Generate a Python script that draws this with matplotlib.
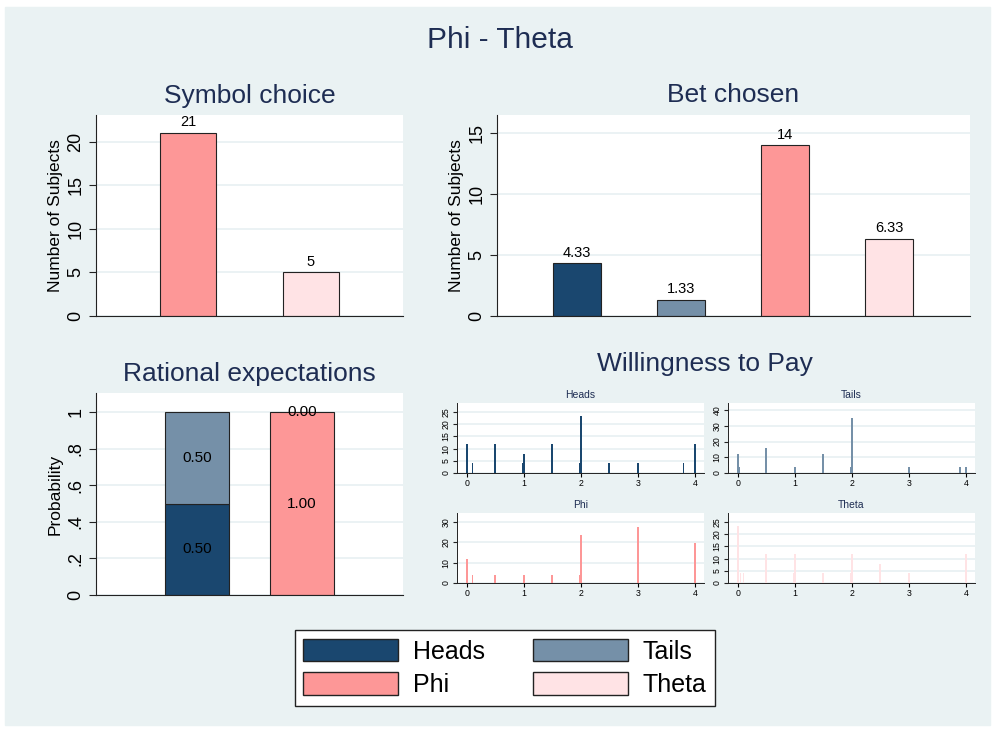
import matplotlib
matplotlib.use('Agg')
import matplotlib.pyplot as plt
from matplotlib.patches import Patch, Rectangle

plt.rcParams['font.family'] = ['Liberation Sans', 'DejaVu Sans']

W, H = 995, 732

# colours (Stata s2color-like)
C_HEADS = '#1a476f'
C_TAILS = '#7590a8'
C_PHI = '#fd9797'
C_THETA = '#ffe3e5'
BG = '#eaf2f3'
GRID = '#e8f0f2'
TITLE_C = '#1e2d53'

# --- data ---
symbol_labels = ['Phi', 'Theta']
symbol_counts = [21, 5]

bet_labels = ['Heads', 'Tails', 'Phi', 'Theta']
bet_counts = [4.33, 1.33, 14, 6.33]

rational_heads = [0.50, 0.00]
rational_tails = [0.50, 0.00]
rational_phi = [0.00, 1.00]
rational_theta = [0.00, 0.00]

wtp_heads_x = [0, 0.1, 0.5, 0.98, 1, 1.5, 1.98, 2, 2.5, 3, 3.8, 4]
wtp_heads_y = [11.8, 3.9, 11.8, 3.9, 7.8, 11.8, 3.9, 23.5, 3.9, 3.9, 3.9, 11.8]
wtp_tails_x = [0, 0.03, 0.5, 1, 1.5, 1.98, 2, 3, 3.9, 4]
wtp_tails_y = [11.8, 3.9, 15.7, 3.9, 11.8, 3.9, 35.3, 3.9, 3.9, 3.9]
wtp_phi_x = [0, 0.1, 0.5, 1, 1.5, 1.98, 2, 3, 4]
wtp_phi_y = [11.8, 3.9, 3.9, 3.9, 3.9, 3.9, 23.5, 27.4, 19.6]
wtp_theta_x = [0, 0.05, 0.1, 0.5, 0.98, 1, 1.5, 1.98, 2, 2.5, 3, 4]
wtp_theta_y = [23.5, 3.9, 3.9, 11.8, 3.9, 11.8, 3.9, 3.9, 11.8, 7.8, 3.9, 11.8]

fig = plt.figure(figsize=(W / 100, H / 100), dpi=100, facecolor='white')
fig.patches.append(Rectangle((5 / W, 1 - 725 / H), 985 / W, 718 / H,
                             transform=fig.transFigure, color=BG, zorder=-10))


def add_ax(l, t, r, b):
    return fig.add_axes([l / W, 1 - b / H, (r - l) / W, (b - t) / H])


def style(ax, size=13, grid=True):
    ax.set_facecolor('white')
    for s in ['top', 'right']:
        ax.spines[s].set_visible(False)
    ax.spines['left'].set_color('#222222')
    ax.spines['bottom'].set_color('#222222')
    ax.tick_params(axis='y', labelsize=size, rotation=90, length=5, color='#222222')
    for lab in ax.get_yticklabels():
        lab.set_va('center')
    if grid:
        ax.yaxis.grid(True, color=GRID, linewidth=1.2)
        ax.set_axisbelow(True)


fig.text(500 / W, 1 - 40 / H, 'Phi - Theta', ha='center', va='center',
         fontsize=21.5, color=TITLE_C)

# --- Symbol choice ---
ax1 = add_ax(96, 115, 403, 316)
x1 = [0.30, 0.70]
ax1.bar(x1, symbol_counts, width=0.18, color=[C_PHI, C_THETA],
        edgecolor='#222222', linewidth=0.8)
for xi, v in zip(x1, symbol_counts):
    ax1.text(xi, v + 0.45, f'{v:g}', ha='center', va='bottom', fontsize=10.5)
ax1.set_xlim(0, 1)
ax1.set_ylim(0, 23.1)
ax1.set_xticks([])
ax1.set_yticks([0, 5, 10, 15, 20])
style(ax1)
ax1.set_ylabel('Number of Subjects', fontsize=12.5, labelpad=3)
ax1.set_title('Symbol choice', fontsize=19, color=TITLE_C, pad=9)

# --- Bet chosen ---
ax2 = add_ax(497, 115, 970, 316)
x2 = [0.169, 0.389, 0.609, 0.829]
ax2.bar(x2, bet_counts, width=0.101, color=[C_HEADS, C_TAILS, C_PHI, C_THETA],
        edgecolor='#222222', linewidth=0.8)
for xi, v in zip(x2, bet_counts):
    ax2.text(xi, v + 0.3, f'{v:g}', ha='center', va='bottom', fontsize=10.5)
ax2.set_xlim(0, 1)
ax2.set_ylim(0, 16.5)
ax2.set_xticks([])
ax2.set_yticks([0, 5, 10, 15])
style(ax2)
ax2.set_ylabel('Number of Subjects', fontsize=12.5, labelpad=3)
ax2.set_title('Bet chosen', fontsize=19, color=TITLE_C, pad=9)

# --- Rational expectations ---
ax3 = add_ax(96, 393, 403, 595)
x3 = [0.329, 0.671]
w3 = 0.208
bottom = [0, 0]
for vals, col in [(rational_heads, C_HEADS), (rational_tails, C_TAILS),
                  (rational_phi, C_PHI), (rational_theta, C_THETA)]:
    for i, (xi, v) in enumerate(zip(x3, vals)):
        if v > 0:
            ax3.bar(xi, v, width=w3, bottom=bottom[i], color=col,
                    edgecolor='#222222', linewidth=0.8)
    bottom = [b + v for b, v in zip(bottom, vals)]
ax3.text(x3[0], 0.25, '0.50', ha='center', va='center', fontsize=11)
ax3.text(x3[0], 0.75, '0.50', ha='center', va='center', fontsize=11)
ax3.text(x3[1], 0.50, '1.00', ha='center', va='center', fontsize=11)
ax3.text(x3[1], 1.00, '0.00', ha='center', va='center', fontsize=11)
ax3.set_xlim(0, 1)
ax3.set_ylim(0, 1.104)
ax3.set_xticks([])
ax3.set_yticks([0, 0.2, 0.4, 0.6, 0.8, 1])
ax3.set_yticklabels(['0', '.2', '.4', '.6', '.8', '1'])
style(ax3)
ax3.set_ylabel('Probability', fontsize=12.5, labelpad=3)
ax3.set_title('Rational expectations', fontsize=19, color=TITLE_C, pad=9)

# --- Willingness to Pay ---
fig.text(705 / W, 1 - 364 / H, 'Willingness to Pay', ha='center', va='center',
         fontsize=19, color=TITLE_C)

small = [
    ('Heads', wtp_heads_x, wtp_heads_y, C_HEADS, (457, 403, 704, 473), 28.7, [0, 5, 10, 15, 20, 25]),
    ('Tails', wtp_tails_x, wtp_tails_y, C_TAILS, (728, 403, 975, 473), 44.6, [0, 10, 20, 30, 40]),
    ('Phi', wtp_phi_x, wtp_phi_y, C_PHI, (457, 513, 704, 583), 34.4, [0, 10, 20, 30]),
    ('Theta', wtp_theta_x, wtp_theta_y, C_THETA, (728, 513, 975, 583), 28.7, [0, 5, 10, 15, 20, 25]),
]
for name, xs, ys, col, box, ytop, yt in small:
    ax = add_ax(*box)
    ax.bar(xs, ys, width=0.03, color=col, linewidth=0)
    ax.set_xlim(-0.17, 4.16)
    ax.set_ylim(0, ytop)
    ax.set_xticks([0, 1, 2, 3, 4])
    ax.set_yticks(yt)
    style(ax, size=6.3, grid=True)
    ax.tick_params(axis='x', labelsize=6.3, length=3, pad=1.5)
    ax.tick_params(axis='y', length=3, pad=1.5)
    ax.spines['left'].set_linewidth(0.7)
    ax.spines['bottom'].set_linewidth(0.7)
    ax.set_title(name, fontsize=7.5, color=TITLE_C, pad=3.5)

# --- legend ---
handles = [Patch(facecolor=C_HEADS, edgecolor='#222222', label='Heads'),
           Patch(facecolor=C_PHI, edgecolor='#222222', label='Phi'),
           Patch(facecolor=C_TAILS, edgecolor='#222222', label='Tails'),
           Patch(facecolor=C_THETA, edgecolor='#222222', label='Theta')]
leg = fig.legend(handles=handles, ncol=2, loc='center',
                 bbox_to_anchor=(505 / W, 1 - 668 / H), fontsize=18,
                 handlelength=3.8, handleheight=1.0, handletextpad=0.6,
                 columnspacing=1.9, labelspacing=0.35, borderpad=0.35,
                 fancybox=False, frameon=True, framealpha=1)
leg.get_frame().set_edgecolor('#222222')
leg.get_frame().set_linewidth(1.0)

fig.savefig('out.png', dpi=100, facecolor='white')
